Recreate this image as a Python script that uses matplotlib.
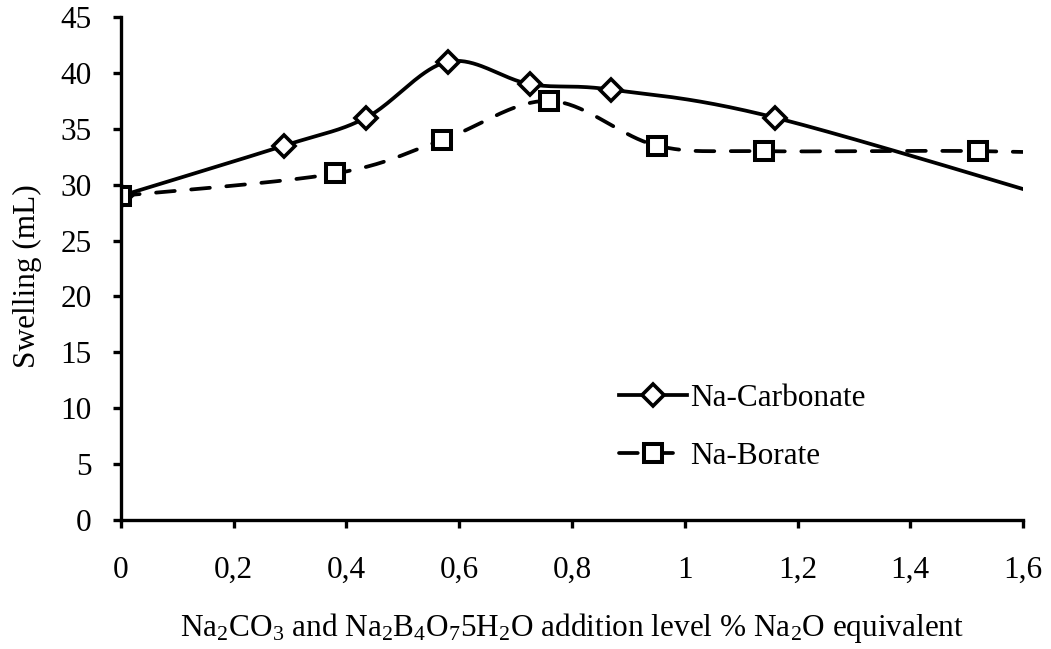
import numpy as np
import matplotlib
matplotlib.use("Agg")
import matplotlib.pyplot as plt
from matplotlib.lines import Line2D

plt.rcParams['font.family'] = ['Liberation Serif', 'DejaVu Serif']
plt.rcParams['mathtext.fontset'] = 'custom'
plt.rcParams['mathtext.rm'] = 'Liberation Serif'
plt.rcParams['mathtext.it'] = 'Liberation Serif:italic'

# Data (last point of each series lies beyond the visible x range)
carb_x = [0, 0.29, 0.435, 0.58, 0.725, 0.87, 1.16, 1.74]
carb_y = [29, 33.5, 36, 41, 39, 38.5, 36, 27.5]
bor_x = [0, 0.38, 0.57, 0.76, 0.95, 1.14, 1.52, 1.90]
bor_y = [29, 31, 34, 37.5, 33.5, 33, 33, 32.5]
x_ticks = [0, 0.2, 0.4, 0.6, 0.8, 1.0, 1.2, 1.4, 1.6]
x_tick_labels = ['0', '0,2', '0,4', '0,6', '0,8', '1', '1,2', '1,4', '1,6']
y_ticks = list(range(0, 50, 5))


def smooth(xs, ys, n=40):
    """Catmull-Rom style smoothing (like spreadsheet smoothed lines)."""
    p = np.column_stack([xs, ys]).astype(float)
    pts = np.vstack([p[0], p, p[-1]])
    out = []
    for i in range(1, len(pts) - 2):
        p0, p1, p2, p3 = pts[i - 1], pts[i], pts[i + 1], pts[i + 2]
        c1 = p1 + (p2 - p0) / 6.0
        c2 = p2 - (p3 - p1) / 6.0
        t = np.linspace(0, 1, n)[:, None]
        seg = ((1 - t) ** 3) * p1 + 3 * ((1 - t) ** 2) * t * c1 + 3 * (1 - t) * t ** 2 * c2 + t ** 3 * p2
        out.append(seg if i == 1 else seg[1:])
    s = np.vstack(out)
    return s[:, 0], s[:, 1]


FS = 22.5
fig = plt.figure(figsize=(10.51, 6.49), dpi=100)
ax = fig.add_axes([0.1151, 0.1988, 0.8583, 0.775])

lw = 2.7
dash = (0, (5.0, 4.4))
cx, cy = smooth(carb_x, carb_y)
bx, by = smooth(bor_x, bor_y)
ax.plot(cx, cy, color='black', lw=lw, solid_capstyle='butt')
ax.plot(bx, by, color='black', lw=lw, linestyle=dash, dash_capstyle='round')
ax.plot(carb_x, carb_y, linestyle='none', marker='D', markersize=11,
        markerfacecolor='white', markeredgecolor='black', markeredgewidth=2.6)
ax.plot(bor_x, bor_y, linestyle='none', marker='s', markersize=12.5,
        markerfacecolor='white', markeredgecolor='black', markeredgewidth=2.9)

ax.set_xlim(0, 1.6)
ax.set_ylim(0, 45)
ax.set_xticks(x_ticks)
ax.set_xticklabels(x_tick_labels)
ax.set_yticks(y_ticks)
for s in ['top', 'right']:
    ax.spines[s].set_visible(False)
for s in ['left', 'bottom']:
    ax.spines[s].set_linewidth(2.4)
ax.tick_params(axis='both', direction='out', width=2.4, length=6, labelsize=FS)
ax.tick_params(axis='x', pad=20)
ax.tick_params(axis='y', pad=15)

ax.set_ylabel('Swelling (mL)', fontsize=FS)
ax.yaxis.set_label_coords(-0.087, 0.485)
ax.set_xlabel(r'Na$\mathregular{_2}$CO$\mathregular{_3}$ and Na$\mathregular{_2}$B$\mathregular{_4}$O$\mathregular{_7}$5H$\mathregular{_2}$O addition level % Na$\mathregular{_2}$O equivalent',
              fontsize=FS, labelpad=19)

h1 = Line2D([], [], color='black', lw=lw, marker='D', markersize=11,
            markerfacecolor='white', markeredgecolor='black', markeredgewidth=2.6)
h2 = Line2D([], [], color='black', lw=lw, linestyle=dash, dash_capstyle='round',
            marker='s', markersize=12.5,
            markerfacecolor='white', markeredgecolor='black', markeredgewidth=2.9)
ax.legend([h1, h2], ['Na-Carbonate', 'Na-Borate'], loc='center left',
          bbox_to_anchor=(0.5205, 0.184), frameon=False, fontsize=FS,
          handlelength=2.2, handletextpad=0.1, labelspacing=0.95)

fig.savefig('out.png', dpi=100)
